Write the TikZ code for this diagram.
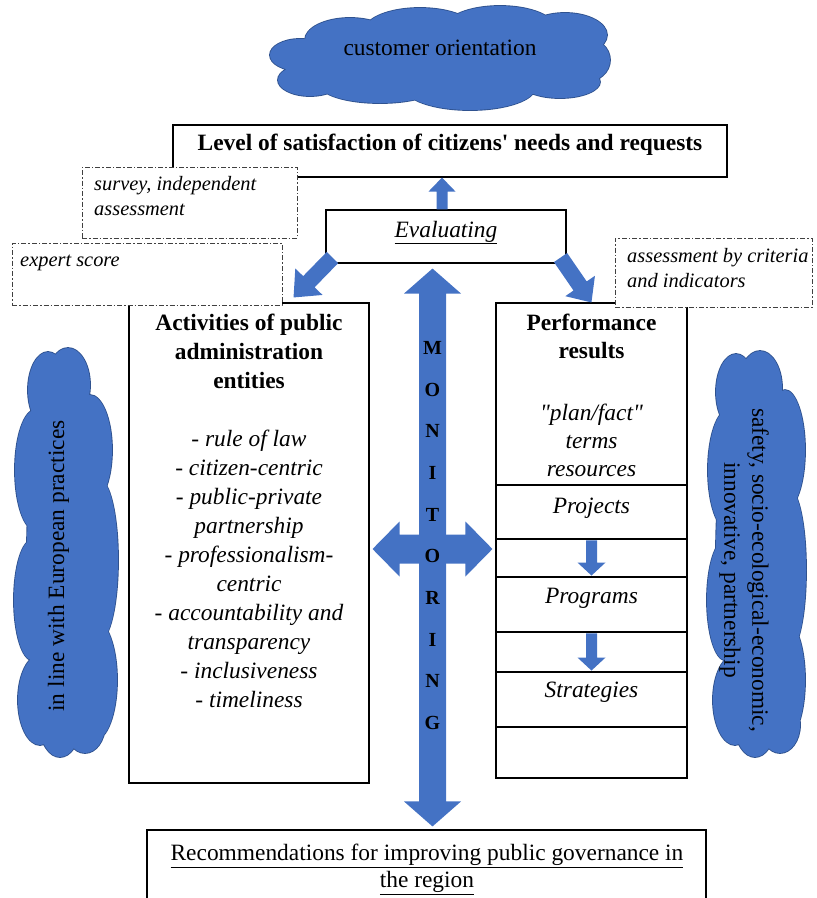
\documentclass[tikz,border=0pt]{standalone}
\usepackage{fontspec}
\setmainfont{Liberation Serif}[Ligatures=TeXOff]
\usetikzlibrary{calc}
\definecolor{ablue}{HTML}{4472C4}
\definecolor{cedge}{HTML}{2F528F}
\newcommand\blockarrow[5]{%
  \coordinate (ba-h) at ($(#2)!#5!(#1)$);
  \fill[ablue] ($(#1)!#3!90:(#2)$) -- ($(ba-h)!#3!90:(#2)$) -- ($(ba-h)!#4!90:(#2)$) -- (#2)
    -- ($(ba-h)!#4!-90:(#2)$) -- ($(ba-h)!#3!-90:(#2)$) -- ($(#1)!#3!-90:(#2)$) -- cycle;}
\newcommand\cloudblob[1]{%
  \fill[cedge] \foreach \cx/\cy/\rx/\ry in {#1} {(\cx,\cy) ellipse [x radius={\rx pt+0.9pt}, y radius={\ry pt+0.9pt}]};
  \fill[ablue] \foreach \cx/\cy/\rx/\ry in {#1} {(\cx,\cy) ellipse [x radius={\rx pt}, y radius={\ry pt}]};}
\begin{document}
\begin{tikzpicture}[x=1pt,y=-1pt,
  box/.style={draw=black, line width=1.1pt, fill=white, inner sep=0pt},
  dbox/.style={draw=black!75, line width=0.8pt, dash pattern=on 5pt off 2pt on 1.5pt off 2pt, fill=white, inner sep=0pt},
  txt/.style={inner sep=0pt, font=\fontsize{23.4}{29}\selectfont},
  ntxt/.style={inner sep=0pt, font=\fontsize{20.4}{25}\selectfont\itshape, align=left},
  mon/.style={inner sep=0pt, font=\fontsize{20}{41.7}\selectfont\bfseries, align=center},
]
\useasboundingbox (0,0) rectangle (817,898);

% clouds
\cloudblob{300/55/30/16, 310/80/32/16, 350/40/45/22, 420/30/55/22, 500/28/55/22, 565/35/42/22, 585/60/25/22, 560/82/40/16, 470/88/65/22, 380/85/60/18, 440/60/140/32}
\cloudblob{48/390/20/38, 68/385/22/37, 90/450/22/55, 100/560/18/80, 95/680/22/60, 35/470/20/60, 32/600/18/60, 40/700/22/45, 60/725/20/32, 85/725/20/28, 67/552/40/180}
\cloudblob{736/392/20/38, 760/388/22/37, 785/450/20/60, 790/570/16/80, 785/680/20/60, 728/470/20/60, 725/600/18/60, 735/700/22/45, 755/725/20/32, 780/725/20/28, 756/555/40/180}

% boxes
\node[box, minimum width=554pt, minimum height=52pt] (level) at (450,151) {};
\node[box, minimum width=240pt, minimum height=53pt] (eval) at (446,236.5) {};
\node[box, minimum width=240pt, minimum height=480pt] (act) at (249,543) {};
\node[box, minimum width=191pt, minimum height=182pt] (perfH) at (591.5,394) {};
\node[box, minimum width=191pt, minimum height=54pt] (rowA) at (591.5,512) {};
\node[box, minimum width=191pt, minimum height=38pt] (gapA) at (591.5,558) {};
\node[box, minimum width=191pt, minimum height=55pt] (rowB) at (591.5,604.5) {};
\node[box, minimum width=191pt, minimum height=40pt] (gapB) at (591.5,652) {};
\node[box, minimum width=191pt, minimum height=55pt] (rowC) at (591.5,699.5) {};
\node[box, minimum width=191pt, minimum height=51pt] (rowD) at (591.5,752.5) {};
\node[box, minimum width=559pt, minimum height=80pt] (rec) at (426.5,870) {};

% arrows
\coordinate (upS) at ($(eval.north)+(-4,0)$);
\coordinate (upE) at (upS |- level.south);
\blockarrow{upS}{upE}{5.5pt}{13.5pt}{14pt}
\coordinate (dlS) at ($(eval.south west)+(7,-6)$);
\coordinate (dlE) at ($(act.north east)+(-76,-5)$);
\blockarrow{dlS}{dlE}{8pt}{19pt}{22pt}
\coordinate (drS) at ($(eval.south east)+(-6,-6)$);
\coordinate (drE) at ($(perfH.north west)+(96,0)$);
\blockarrow{drS}{drE}{8pt}{18pt}{20pt}
\coordinate (sa1) at ($(gapA.north)+(0,2)$);
\coordinate (sa2) at ($(gapA.south)+(0,-2)$);
\blockarrow{sa1}{sa2}{5.5pt}{14pt}{13pt}
\coordinate (sb1) at ($(gapB.north)+(0,2)$);
\coordinate (sb2) at ($(gapB.south)+(0,-2)$);
\blockarrow{sb1}{sb2}{5.5pt}{14pt}{13pt}

\coordinate (monC) at (432.5,549);
\coordinate (monTop) at ($(monC |- eval.south)+(0,5)$);
\coordinate (monBot) at ($(monC |- rec.north)+(0,-3)$);
\coordinate (monL) at ($(act.east |- monC)+(3,0)$);
\coordinate (monR) at ($(gapA.west |- monC)+(-3,0)$);
\blockarrow{monC}{monTop}{13.5pt}{28.5pt}{25pt}
\blockarrow{monC}{monBot}{13.5pt}{28.5pt}{25pt}
\blockarrow{monC}{monL}{14.5pt}{27.5pt}{27pt}
\blockarrow{monC}{monR}{14.5pt}{27.5pt}{27pt}

% dashed boxes
\node[dbox, minimum width=215pt, minimum height=71pt] (survey) at (189.5,202.5) {};
\node[dbox, minimum width=270pt, minimum height=62pt] (expert) at (147,274) {};
\node[dbox, minimum width=197pt, minimum height=69pt] (assess) at (713.5,272.5) {};

% texts
\node[txt, anchor=base] (cTopT) at (440,55) {customer orientation};
\node[txt, anchor=base] (levelT) at (450,150) {\textbf{Level of satisfaction of citizens' needs and requests}};
\node[txt, anchor=base] (evalT) at (446,237) {\textit{\underline{Evaluating}}};
\node[ntxt, anchor=north west] (surveyT) at (94,176.5) {survey, independent\\assessment};
\node[ntxt, anchor=base west] (expertT) at (20,266.6) {expert score};
\node[ntxt, anchor=north west] (assessT) at (627,248.5) {assessment by criteria\\and indicators};

\node[txt, anchor=north, align=center] (actT) at (249,314) {\textbf{Activities of public}\\\textbf{administration}\\\textbf{entities}\\[29pt]%
\textit{- rule of law}\\\textit{- citizen-centric}\\\textit{- public-private}\\\textit{partnership}\\\textit{- professionalism-}\\\textit{centric}\\\textit{- accountability and}\\\textit{transparency}\\\textit{- inclusiveness}\\\textit{- timeliness}};

\node[txt, anchor=north, align=center, font=\fontsize{23.4}{28}\selectfont] (perfT) at (591.5,314) {\textbf{Performance}\\\textbf{results}\\[34pt]\textit{"plan/fact"}\\\textit{terms}\\\textit{resources}};
\node[txt, anchor=base] (rowAT) at (591.5,513.2) {\textit{Projects}};
\node[txt, anchor=base] (rowBT) at (591.5,603.2) {\textit{Programs}};
\node[txt, anchor=base] (rowCT) at (591.5,697.2) {\textit{Strategies}};

\node[mon] (monTxt) at (432.5,535.5) {M\\O\\N\\I\\T\\O\\R\\I\\N\\G};

\node[txt, anchor=base, rotate=90] (cLeftT) at (64,566) {in line with European practices};
\node[txt, anchor=north, rotate=-90, align=center, font=\fontsize{23.4}{28}\selectfont] (cRightT) at (769,570) {safety, socio-ecological-economic,\\innovative, partnership};

\node[txt, anchor=north, align=center, font=\fontsize{23.4}{27}\selectfont] (recT) at (427,844) {\underline{Recommendations for improving public governance in}\\\underline{the region}};
\end{tikzpicture}
\end{document}
